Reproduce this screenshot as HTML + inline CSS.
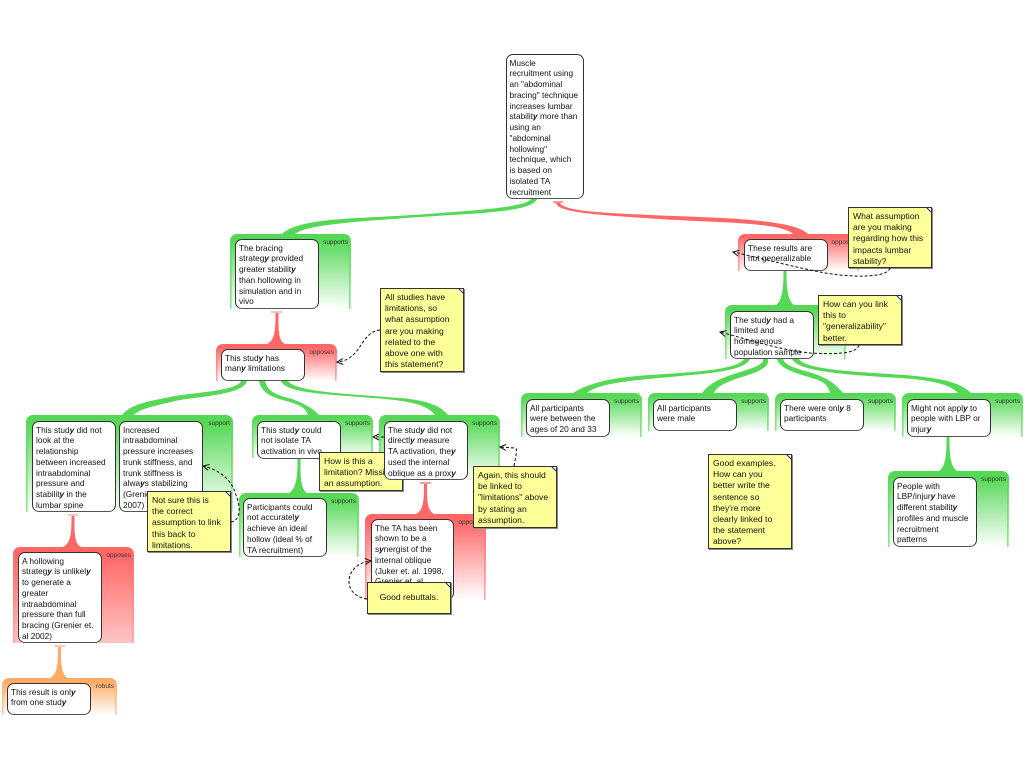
<!DOCTYPE html>
<html><head><meta charset="utf-8"><style>
html,body{margin:0;padding:0;background:#fff;width:1024px;height:768px;overflow:hidden;position:relative}
.c,.n,.m{position:absolute;box-sizing:border-box}
.c{border-radius:7px 7px 0 0;font:6.5px/8px "Liberation Sans",sans-serif;color:#333;text-align:right;padding:5px 3px 0 0;
background:linear-gradient(var(--a),var(--e)) 0 0/1.6px 100% no-repeat,linear-gradient(var(--a),var(--e)) 100% 0/1.6px 100% no-repeat,linear-gradient(var(--a) 0,var(--a) 8%,var(--z,#fff) 100%)}
.g{--a:#55d855;--e:#8de88d}
.r{--a:#ff6666;--e:#ffa8a8}
.o{--a:#ffaa66;--e:#ffcfa8}
.n{background:#fff;border:1.4px solid #333;border-bottom:1.8px solid #555;border-radius:7px;padding:2.6px 0 0 3px;font:8.3px/10.75px "Liberation Sans",sans-serif;color:#111;white-space:nowrap;overflow:hidden}
.n i{font-family:"Liberation Sans",sans-serif;font-weight:bold;font-style:italic}
.m{background:#ffff99;border:1.3px solid #333;box-shadow:1px 1px 0 #888;padding:3px 0 0 4px;font:8.6px/11.2px "Liberation Sans",sans-serif;color:#111;white-space:nowrap;overflow:hidden}
.m:after{content:"";position:absolute;top:-1px;right:-1px;width:6px;height:6px;background:linear-gradient(to bottom left,#fff 44%,#333 44%,#333 56%,#ffffcc 56%)}
svg{position:absolute;left:0;top:0}
</style></head><body>
<div class="c g" style="left:230px;top:234px;width:121px;height:75px">supports</div>
<div class="c r" style="left:216px;top:344px;width:121px;height:37px">opposes</div>
<div class="c r" style="left:738px;top:234px;width:121px;height:37px">opposes</div>
<div class="c g" style="left:725px;top:305px;width:121px;height:54px">supports</div>
<div class="c g" style="left:26px;top:415px;width:207px;height:97px">support</div>
<div class="c g" style="left:252px;top:415px;width:121px;height:43px">supports</div>
<div class="c g" style="left:379px;top:415px;width:121px;height:65px">supports</div>
<div class="c g" style="left:239px;top:493px;width:120px;height:64px">supports</div>
<div class="c r" style="left:365px;top:514px;width:121px;height:86px">opposes</div>
<div class="c r" style="left:13px;top:547px;width:121px;height:96px;--z:#ffc4c4">opposes</div>
<div class="c o" style="left:2px;top:678px;width:115px;height:37px">robuts</div>
<div class="c g" style="left:521px;top:393px;width:121px;height:44px">supports</div>
<div class="c g" style="left:648px;top:393px;width:121px;height:38px">supports</div>
<div class="c g" style="left:775px;top:393px;width:121px;height:38px">supports</div>
<div class="c g" style="left:902px;top:393px;width:121px;height:44px">supports</div>
<div class="c g" style="left:888px;top:471px;width:121px;height:76px">supports</div>

<svg width="1024" height="768" viewBox="0 0 1024 768">
<g fill="#55d855">
<path d="M531,199C526,207 480,210 420,214.500C360,219 300,217 282,234L295,234C306,225 350,222 420,217C480,213 532,212 537,199Z"/>
<path d="M241,381C236,392 190,392 165,398C145,402 130,405 122,415L134,415C140,408 160,405 175,401C200,396 243,395 247,381Z"/>
<path d="M259,381C262,395 275,398 290,402C300,405 306,408 308,415L319,415C312,407 300,402 292,399C278,395 268,393 265,381Z"/>
<path d="M281,381C285,392 320,394 360,397C400,400 425,402 435,415L448,415C440,405 425,400 400,398C350,394 295,392 288,381Z"/>
<path d="M744,359C740,366 720,370 680,373C640,376 600,376 573,393L587,393C600,382 640,380 680,376C715,373 745,370 750,359Z"/>
<path d="M763,359C765,366 745,370 728,376C714,381 708,386 702,393L714,393C717,385 732,380 745,376C758,372 770,367 768,359Z"/>
<path d="M777,359C780,370 800,374 815,379C825,382 829,387 830,393L843,393C835,383 825,377 812,373C798,369 785,366 783,359Z"/>
<path d="M792,359C798,372 850,375 900,378C930,380 950,384 958,393L971,393C960,382 940,378 905,375C860,372 805,370 799,359Z"/>
<path d="M783.500,271C783.500,285 783,300 776,305L794,305C787,300 786.500,285 786.500,271Z"/>
<path d="M297.500,458C297.500,475 297,488 289,493L307,493C300,488 300.500,475 300.500,458Z"/>
<path d="M946.500,437C946.500,454 946,466 939,471L957,471C950,466 949.500,454 949.500,437Z"/>
</g>
<g fill="#ff6666">
<path d="M556,203C558,213 600,215 660,219C720,223 780,222 793,234L808,234C795,220 730,218 660,215.500C610,213 565,212 560,203Z"/>
<path d="M275.500,313C275.500,330 275,340 267,344L285,344C278,340 278.500,330 278.500,313Z"/>
<path d="M71.500,516C71.500,533 71,543 63,547L81,547C74,543 74.500,533 74.500,516Z"/>
<path d="M424,484C424,501 423.500,510 416,514L434,514C427,510 427,501 427,484Z"/>
</g>
<path d="M58,647C58,664 57.500,674 50,678L68,678C61,674 61,664 61,647Z" fill="#ffaa66"/>
<g stroke-width="1.5">
<path d="M553,202H563" stroke="#ff7777"/>
<path d="M271,312H282" stroke="#ffaaaa"/>
<path d="M68,515H78" stroke="#ffaaaa"/>
<path d="M420,483H431" stroke="#ff7777"/>
<path d="M54,646H65" stroke="#ffbb88"/>
</g>
</svg>

<div class="n" style="left:505.500px;top:54px;width:78.500px;height:145px">Muscle<br>recruitment using<br>an "abdominal<br>bracing" technique<br>increases lumbar<br>stabilit<i>y</i> more than<br>using an<br>"abdominal<br>hollowing"<br>technique, which<br>is based on<br>isolated TA<br>recruitment</div>
<div class="n" style="left:235px;top:239px;width:84px;height:70px">The bracing<br>strateg<i>y</i> provided<br>greater stabilit<i>y</i><br>than hollowing in<br>simulation and in<br>vivo</div>
<div class="n" style="left:221px;top:349px;width:84px;height:32px">This stud<i>y</i> has<br>man<i>y</i> limitations</div>
<div class="n" style="left:744px;top:239px;width:84px;height:32px">These results are<br>not generalizable</div>
<div class="n" style="left:730px;top:311px;width:84px;height:48px">The stud<i>y</i> had a<br>limited and<br>homogenous<br>population sample</div>
<div class="n" style="left:32px;top:421px;width:84px;height:91px">This stud<i>y</i> did not<br>look at the<br>relationship<br>between increased<br>intraabdominal<br>pressure and<br>stabilit<i>y</i> in the<br>lumbar spine</div>
<div class="n" style="left:119px;top:421px;width:84px;height:91px">Increased<br>intraabdominal<br>pressure increases<br>trunk stiffness, and<br>trunk stiffness is<br>alwa<i>y</i>s stabilizing<br>(Grenier et. al<br>2007)</div>
<div class="n" style="left:257px;top:421px;width:84px;height:38px">This stud<i>y</i> could<br>not isolate TA<br>activation in vivo</div>
<div class="m" style="left:319px;top:452px;width:84px;height:39px">How is this a<br>limitation? Missing<br>an assumption.</div>
<div class="n" style="left:384px;top:421px;width:84px;height:59px">The stud<i>y</i> did not<br>directl<i>y</i> measure<br>TA activation, the<i>y</i><br>used the internal<br>oblique as a prox<i>y</i></div>
<div class="n" style="left:243px;top:498px;width:84px;height:59px">Participants could<br>not accuratel<i>y</i><br>achieve an ideal<br>hollow (ideal % of<br>TA recruitment)</div>
<div class="n" style="left:371px;top:519px;width:83px;height:81px">The TA has been<br>shown to be a<br>s<i>y</i>nergist of the<br>internal oblique<br>(Juker et. al. 1998,<br>Grenier et. al<br>2007)</div>
<div class="n" style="left:18px;top:552px;width:84px;height:91px">A hollowing<br>strateg<i>y</i> is unlikel<i>y</i><br>to generate a<br>greater<br>intraabdominal<br>pressure than full<br>bracing (Grenier et.<br>al 2002)</div>
<div class="n" style="left:7px;top:683px;width:84px;height:32px">This result is onl<i>y</i><br>from one stud<i>y</i></div>
<div class="n" style="left:526px;top:399px;width:84px;height:38px">All participants<br>were between the<br>ages of 20 and 33</div>
<div class="n" style="left:653px;top:399px;width:84px;height:32px">All participants<br>were male</div>
<div class="n" style="left:780px;top:399px;width:84px;height:32px">There were onl<i>y</i> 8<br>participants</div>
<div class="n" style="left:907px;top:399px;width:84px;height:38px">Might not appl<i>y</i> to<br>people with LBP or<br>injur<i>y</i></div>
<div class="n" style="left:893px;top:477px;width:84px;height:70px">People with<br>LBP/injur<i>y</i> have<br>different stabilit<i>y</i><br>profiles and muscle<br>recruitment<br>patterns</div>

<div class="m" style="left:380px;top:288px;width:84px;height:84px">All studies have<br>limitations, so<br>what assumption<br>are you making<br>related to the<br>above one with<br>this statement?</div>
<div class="m" style="left:848px;top:207px;width:84px;height:61px">What assumption<br>are you making<br>regarding how this<br>impacts lumbar<br>stability?</div>
<div class="m" style="left:818px;top:295px;width:84px;height:50px">How can you link<br>this to<br>"generalizability"<br>better.</div>
<div class="m" style="left:147px;top:491px;width:84px;height:61px">Not sure this is<br>the correct<br>assumption to link<br>this back to<br>limitations.</div>
<div class="m" style="left:473px;top:466px;width:84px;height:62px">Again, this should<br>be linked to<br>"limitations" above<br>by stating an<br>assumption.</div>
<div class="m" style="left:367px;top:582px;width:84px;height:32px;padding:9px 0 0;text-align:center">Good rebuttals.</div>
<div class="m" style="left:708px;top:454px;width:84px;height:95px">Good examples.<br>How can you<br>better write the<br>sentence so<br>they're more<br>clearly linked to<br>the statement<br>above?</div>

<svg width="1024" height="768" viewBox="0 0 1024 768">
<defs><marker id="a" markerUnits="userSpaceOnUse" markerWidth="8" markerHeight="8" refX="7" refY="4" orient="auto"><path d="M1,1L7,4L1,7" fill="none" stroke="#111" stroke-width="1"/></marker></defs>
<g fill="none" stroke="#111" stroke-width="1" stroke-dasharray="3 2" marker-end="url(#a)">
<path d="M380,330C360,332 362,360 337,362"/>
<path d="M890,268C888,278 850,278 820,272C790,266 760,258 733,252"/>
<path d="M859,345C857,355 830,354 810,353C780,350 750,340 720,332"/>
<path d="M231,522C242,520 240,505 236,495C232,480 220,470 203,466"/>
<path d="M384,437L373,437"/>
<path d="M514,466C516,455 518,448 515,448L500,447"/>
<path d="M367,599C340,595 345,563 371,561"/>
</g>
</svg>
</body></html>
